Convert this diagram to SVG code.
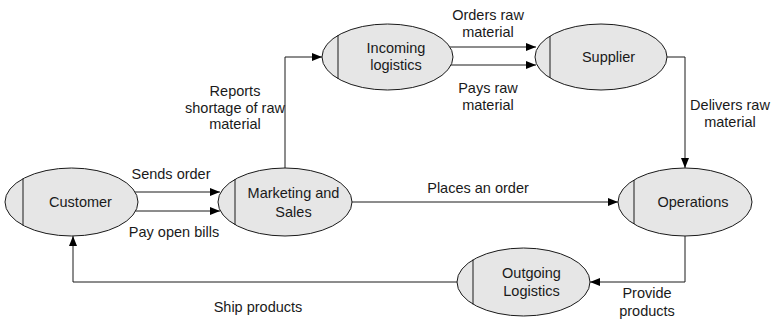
<svg xmlns="http://www.w3.org/2000/svg" width="771" height="322" viewBox="0 0 771 322">
<style>
.n ellipse{fill:#e6e6e6;stroke:#1a1a1a;stroke-width:1}
.n line{stroke:#1a1a1a;stroke-width:1}
text{font-family:"Liberation Sans",Arial,sans-serif;font-size:14.5px;fill:#1a1a1a;text-anchor:middle}
.c path{fill:none;stroke:#1a1a1a;stroke-width:1}
</style>
<defs>
<marker id="a" viewBox="0 0 10 8" refX="10" refY="4" markerWidth="10" markerHeight="8" markerUnits="userSpaceOnUse" orient="auto">
<path d="M0,0 L10,4 L0,8 z" fill="#000"/>
</marker>
</defs>
<rect width="771" height="322" fill="#fff"/>
<g class="c">
<path d="M135,192 H220" marker-end="url(#a)"/>
<path d="M135,211 H220" marker-end="url(#a)"/>
<path d="M285,168 V57 H322" marker-end="url(#a)"/>
<path d="M450,47 H536" marker-end="url(#a)"/>
<path d="M450,65 H536" marker-end="url(#a)"/>
<path d="M667,57 H685 V168" marker-end="url(#a)"/>
<path d="M352,202 H618" marker-end="url(#a)"/>
<path d="M685,236 V282 H590" marker-end="url(#a)"/>
<path d="M457,282 H73 V236" marker-end="url(#a)"/>
<text x="171" y="179">Sends order</text>
<text x="174" y="237">Pay open bills</text>
<text x="235" y="96">Reports</text>
<text x="235" y="112.5">shortage of raw</text>
<text x="235" y="129">material</text>
<text x="488" y="20">Orders raw</text>
<text x="488" y="37">material</text>
<text x="488" y="93">Pays raw</text>
<text x="488" y="110">material</text>
<text x="730" y="110">Delivers raw</text>
<text x="730" y="127">material</text>
<text x="478" y="193">Places an order</text>
<text x="647" y="298">Provide</text>
<text x="647" y="316">products</text>
<text x="258" y="312">Ship products</text>
</g>
<g id="customer" class="n">
<ellipse cx="71.5" cy="202" rx="66.5" ry="34"/>
<line x1="23" y1="178.5" x2="23" y2="225.5"/>
<text x="80.5" y="207">Customer</text>
</g>
<g id="marketing" class="n">
<ellipse cx="285" cy="202" rx="67" ry="34"/>
<line x1="235" y1="179" x2="235" y2="225"/>
<text x="293.5" y="198">Marketing and</text>
<text x="293.5" y="216.5">Sales</text>
</g>
<g id="incoming" class="n">
<ellipse cx="387.5" cy="57" rx="65.5" ry="33"/>
<line x1="338" y1="35" x2="338" y2="79"/>
<text x="396" y="53">Incoming</text>
<text x="396" y="70">logistics</text>
</g>
<g id="supplier" class="n">
<ellipse cx="601" cy="57" rx="66" ry="33"/>
<line x1="550" y1="36" x2="550" y2="78"/>
<text x="608.5" y="62">Supplier</text>
</g>
<g id="operations" class="n">
<ellipse cx="685" cy="202" rx="67" ry="34"/>
<line x1="634" y1="180" x2="634" y2="224"/>
<text x="693" y="207">Operations</text>
</g>
<g id="outgoing" class="n">
<ellipse cx="523.5" cy="282" rx="66.5" ry="34"/>
<line x1="473" y1="259.5" x2="473" y2="304.5"/>
<text x="531.5" y="278">Outgoing</text>
<text x="531.5" y="296">Logistics</text>
</g>
</svg>
